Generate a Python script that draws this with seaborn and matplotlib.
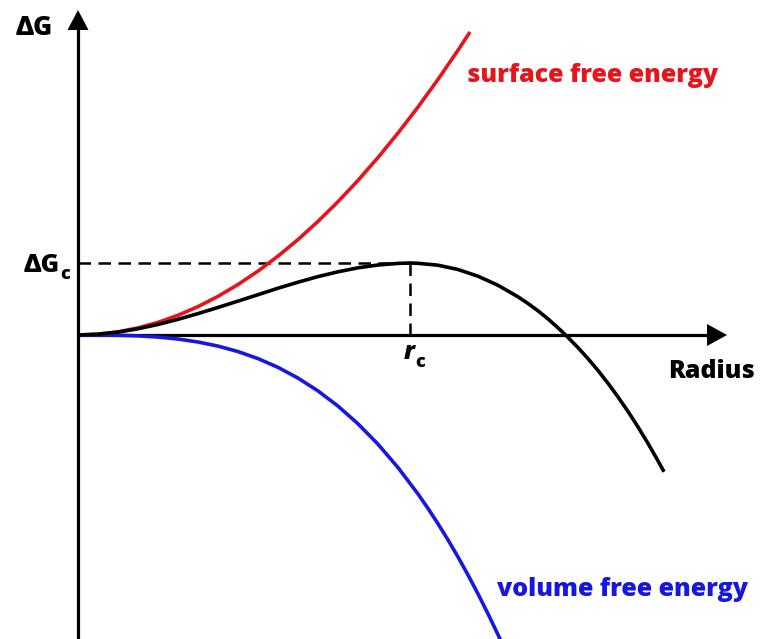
import matplotlib
matplotlib.use("Agg")
import matplotlib.pyplot as plt
import pandas as pd
import seaborn as sns

# Radius samples (arbitrary units) and free-energy contributions
radius_surface = [0.0, 0.2, 0.4, 0.6, 0.8, 1.0, 1.2, 1.4, 1.6, 1.8, 2.0, 2.2,
                  2.4, 2.6, 2.8, 3.0, 3.2, 3.4, 3.6, 3.8, 3.92]
surface_energy = [0.0, 0.0079, 0.0316, 0.0710, 0.1262, 0.1972, 0.2840, 0.3865,
                  0.5048, 0.6389, 0.7888, 0.9544, 1.1359, 1.3331, 1.5460,
                  1.7748, 2.0193, 2.2796, 2.5557, 2.8476, 3.0302]

radius_volume = [0.0, 0.2, 0.4, 0.6, 0.8, 1.0, 1.2, 1.4, 1.6, 1.8, 2.0, 2.2,
                 2.4, 2.6, 2.8, 3.0, 3.2, 3.4, 3.5, 3.6, 3.7, 3.8, 3.9, 4.0,
                 4.1, 4.2, 4.3]
volume_energy = [0.0, -0.0003, -0.0026, -0.0087, -0.0207, -0.0405, -0.0699,
                 -0.1110, -0.1657, -0.2359, -0.3236, -0.4307, -0.5592, -0.7110,
                 -0.8879, -1.0922, -1.3255, -1.5898, -1.7343, -1.8872, -2.0489,
                 -2.2196, -2.3995, -2.5888, -2.7879, -2.9968, -3.2160]

radius_total = [0.0, 0.2, 0.4, 0.6, 0.8, 1.0, 1.2, 1.4, 1.6, 1.8, 2.0, 2.2,
                2.4, 2.6, 2.8, 3.0, 3.2, 3.32, 3.4, 3.6, 3.8, 4.0, 4.2, 4.4,
                4.5, 4.6, 4.7, 4.8, 4.9, 5.0, 5.1, 5.2, 5.3, 5.4, 5.5, 5.6,
                5.7, 5.8, 5.86]
total_energy = [0.0, 0.0076, 0.0290, 0.0623, 0.1055, 0.1567, 0.2141, 0.2755,
                0.3391, 0.4030, 0.4680, 0.5280, 0.5840, 0.6320, 0.6720, 0.7000,
                0.7160, 0.7200, 0.7170, 0.6980, 0.6550, 0.5880, 0.4970, 0.3820,
                0.3150, 0.2420, 0.1610, 0.0720, -0.0241, -0.1263, -0.2365,
                -0.3553, -0.4828, -0.6190, -0.7646, -0.9194, -1.0841, -1.2584,
                -1.3680]

r_crit = 3.32
dG_crit = 0.72

RED = "#e6141b"
BLUE = "#1818dc"
FONT = ["Open Sans", "DejaVu Sans"]

sns.set_style("white")
plt.rcParams["font.family"] = FONT
plt.rcParams["text.color"] = "black"

df_s = pd.DataFrame({"r": radius_surface, "G": surface_energy})
df_v = pd.DataFrame({"r": radius_volume, "G": volume_energy})
df_t = pd.DataFrame({"r": radius_total, "G": total_energy})

fig = plt.figure(figsize=(7.6, 6.39), dpi=100)
ax = fig.add_axes([0, 0, 1, 1])

# Coordinate axes with arrowheads
ax.plot([0, 0], [-3.2, 3.06], color="black", lw=2.3, solid_capstyle="butt", zorder=3)
ax.fill([-0.105, 0.105, 0.0], [3.05, 3.05, 3.25], color="black", lw=0, zorder=3)
ax.plot([0, 6.30], [0, 0], color="black", lw=2.3, solid_capstyle="butt", zorder=3)
ax.fill([6.29, 6.29, 6.49], [0.11, -0.11, 0.0], color="black", lw=0, zorder=3)

# Critical point guides
ax.plot([0, r_crit], [dG_crit, dG_crit], color="black", lw=1.8,
        dashes=(5, 3), zorder=2)
ax.plot([r_crit, r_crit], [dG_crit, 0], color="black", lw=1.8,
        dashes=(5, 3), zorder=2)

line_kw = dict(lw=2.6, ax=ax, estimator=None, sort=False,
               solid_joinstyle="round", solid_capstyle="butt")
sns.lineplot(data=df_s, x="r", y="G", color=RED, zorder=4, **line_kw)
sns.lineplot(data=df_v, x="r", y="G", color=BLUE, zorder=4, **line_kw)
sns.lineplot(data=df_t, x="r", y="G", color="black", zorder=5, **line_kw)
ax.set_xlim(-0.78, 6.82)
ax.set_ylim(-3.04, 3.35)
ax.axis("off")

bold = dict(fontweight=800, family=FONT)
ax.text(-0.435, 3.00, "ΔG", fontsize=18.5, ha="center", va="baseline",
        color="black", **bold)
ax.text(-0.18, 0.63, "ΔG", fontsize=18, ha="right", va="baseline",
        color="black", **bold)
ax.text(-0.18, 0.56, "c", fontsize=13, ha="left", va="baseline",
        color="black", **bold)
ax.text(3.37, -0.24, "r", fontsize=18, ha="right", va="baseline",
        style="italic", color="black", **bold)
ax.text(3.37, -0.32, "c", fontsize=13, ha="left", va="baseline",
        color="black", **bold)
ax.text(6.77, -0.43, "Radius", fontsize=18, ha="right", va="baseline",
        color="black", **bold)
ax.text(3.89, 2.53, "surface free energy", fontsize=18, ha="left",
        va="baseline", color=RED, **bold)
ax.text(4.19, -2.61, "volume free energy", fontsize=18, ha="left",
        va="baseline", color=BLUE, **bold)

fig.savefig("out.png", dpi=100)
